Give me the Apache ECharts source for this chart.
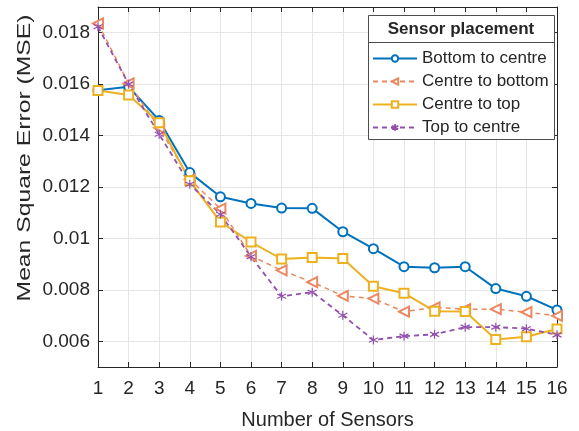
<!DOCTYPE html>
<html>
<head>
<meta charset="utf-8">
<script src="https://cdn.jsdelivr.net/npm/echarts@6/dist/echarts.min.js"></script>
<style>
html,body{margin:0;padding:0;background:#fff;}
#chart{width:579px;height:431px;}
</style>
</head>
<body>
<div id="chart"></div>
<script>
const sensors = [1, 2, 3, 4, 5, 6, 7, 8, 9, 10, 11, 12, 13, 14, 15, 16];
const bottomToCentre = [0.01576, 0.0159, 0.01459, 0.01256, 0.01162, 0.01136, 0.01118, 0.01117, 0.01026, 0.0096, 0.0089, 0.00886, 0.0089, 0.00805, 0.00775, 0.00722];
const centreToBottom = [0.01836, 0.01603, 0.0143, 0.0123, 0.01116, 0.00932, 0.00876, 0.0083, 0.00777, 0.00766, 0.00715, 0.00732, 0.00725, 0.00725, 0.00713, 0.00699];
const centreToTop = [0.01575, 0.01558, 0.0145, 0.01224, 0.01064, 0.00986, 0.0092, 0.00926, 0.00922, 0.00814, 0.00787, 0.00717, 0.00716, 0.00607, 0.00618, 0.00648];
const topToCentre = [0.01823, 0.016, 0.01405, 0.01211, 0.01094, 0.00929, 0.00775, 0.00791, 0.00701, 0.00605, 0.0062, 0.00627, 0.00655, 0.00655, 0.00649, 0.00625];
const yTickValues = [0.006, 0.008, 0.01, 0.012, 0.014, 0.016, 0.018];
const seriesNames = ['Bottom to centre', 'Centre to bottom', 'Centre to top', 'Top to centre'];
const legendTitle = 'Sensor placement';
const xAxisName = 'Number of Sensors';
const yAxisName = 'Mean Square Error (MSE)';

const FONT = '"Liberation Sans", Arial, Helvetica, sans-serif';
const TXT = '#262626';
const AX = '#262626';
const GRID = '#e6e6e6';
const pair = arr => sensors.map((s, i) => [s, arr[i]]);

const chart = echarts.init(document.getElementById('chart'), null, {renderer: 'canvas'});

const xBase = {
  type: 'value', min: 1, max: 16, interval: 1,
  axisLine: {show: true, onZero: false, lineStyle: {color: AX, width: 1}},
  axisTick: {show: true, inside: true, length: 5, lineStyle: {color: AX}},
};
const yBase = {
  type: 'value', min: 0.005, max: 0.019,
  axisLine: {show: true, onZero: false, lineStyle: {color: AX, width: 1}},
  axisTick: {show: true, inside: true, length: 5, customValues: yTickValues, lineStyle: {color: AX}},
};

const asterisk = 'path://M5,0L5,10M0.67,2.5L9.33,7.5M0.67,7.5L9.33,2.5';

chart.setOption({
  animation: false,
  backgroundColor: '#fff',
  textStyle: {fontFamily: FONT},
  grid: {left: 98, right: 22, top: 7, bottom: 64, containLabel: false, outerBoundsMode: 'none'},
  xAxis: [
    Object.assign({}, xBase, {
      position: 'bottom',
      name: xAxisName, nameLocation: 'middle', nameGap: 43,
      nameTextStyle: {fontSize: 20, color: TXT, fontFamily: FONT},
      axisLabel: {show: true, fontSize: 19, color: TXT, margin: 12, fontFamily: FONT},
      splitLine: {show: true, lineStyle: {color: GRID, width: 1}}
    }),
    Object.assign({}, xBase, {
      position: 'top',
      axisLabel: {show: false},
      splitLine: {show: false}
    })
  ],
  yAxis: [
    Object.assign({}, yBase, {
      position: 'left',
      axisLabel: {show: true, fontSize: 19, color: TXT, margin: 8, customValues: yTickValues, fontFamily: FONT},
      splitLine: {show: true, lineStyle: {color: GRID, width: 1}}
    }),
    Object.assign({}, yBase, {
      position: 'right',
      axisLabel: {show: false},
      splitLine: {show: false}
    })
  ],
  legend: {
    orient: 'vertical',
    left: 372, top: 50,
    padding: 0,
    itemWidth: 44, itemHeight: 8, itemGap: 6,
    z: 10,
    textStyle: {fontSize: 17, color: TXT, lineHeight: 17, fontFamily: FONT},
    data: seriesNames
  },
  graphic: [
    {type: 'text', z: 9, x: 25, y: 158, rotation: Math.PI / 2, scaleX: 1.3, scaleY: 1,
     style: {text: yAxisName, font: '19px ' + FONT, fill: TXT, textAlign: 'center', textVerticalAlign: 'middle'}},
    {type: 'rect', z: 8, shape: {x: 368.5, y: 15.5, width: 186, height: 124},
     style: {fill: '#fff', stroke: '#4d4d4d', lineWidth: 1}},
    {type: 'line', z: 9, shape: {x1: 368.5, y1: 42.5, x2: 554.5, y2: 42.5},
     style: {stroke: '#4d4d4d', lineWidth: 1}},
    {type: 'text', z: 9, x: 461, y: 29,
     style: {text: legendTitle, font: 'bold 17px ' + FONT, fill: TXT, textAlign: 'center', textVerticalAlign: 'middle'}}
  ],
  series: [
    {
      name: seriesNames[0], type: 'line', data: pair(bottomToCentre),
      symbol: 'emptyCircle', symbolSize: 9,
      itemStyle: {color: '#0072BD', borderWidth: 1.5},
      lineStyle: {color: '#0072BD', width: 2, type: 'solid'}
    },
    {
      name: seriesNames[1], type: 'line', data: pair(centreToBottom),
      symbol: 'emptyTriangle', symbolSize: 10, symbolRotate: 90,
      itemStyle: {color: '#EA8862', borderWidth: 1.2},
      lineStyle: {color: '#EA8862', width: 1.5, type: [5, 4]}
    },
    {
      name: seriesNames[2], type: 'line', data: pair(centreToTop),
      symbol: 'emptyRect', symbolSize: 9,
      itemStyle: {color: '#EDB120', borderWidth: 1.5},
      lineStyle: {color: '#EDB120', width: 2, type: 'solid'}
    },
    {
      name: seriesNames[3], type: 'line', data: pair(topToCentre),
      symbol: asterisk, symbolSize: 9,
      itemStyle: {color: '#9350AD', borderColor: '#9350AD', borderWidth: 1.2},
      lineStyle: {color: '#9350AD', width: 1.8, type: [5, 4]}
    }
  ]
});
</script>
</body>
</html>
